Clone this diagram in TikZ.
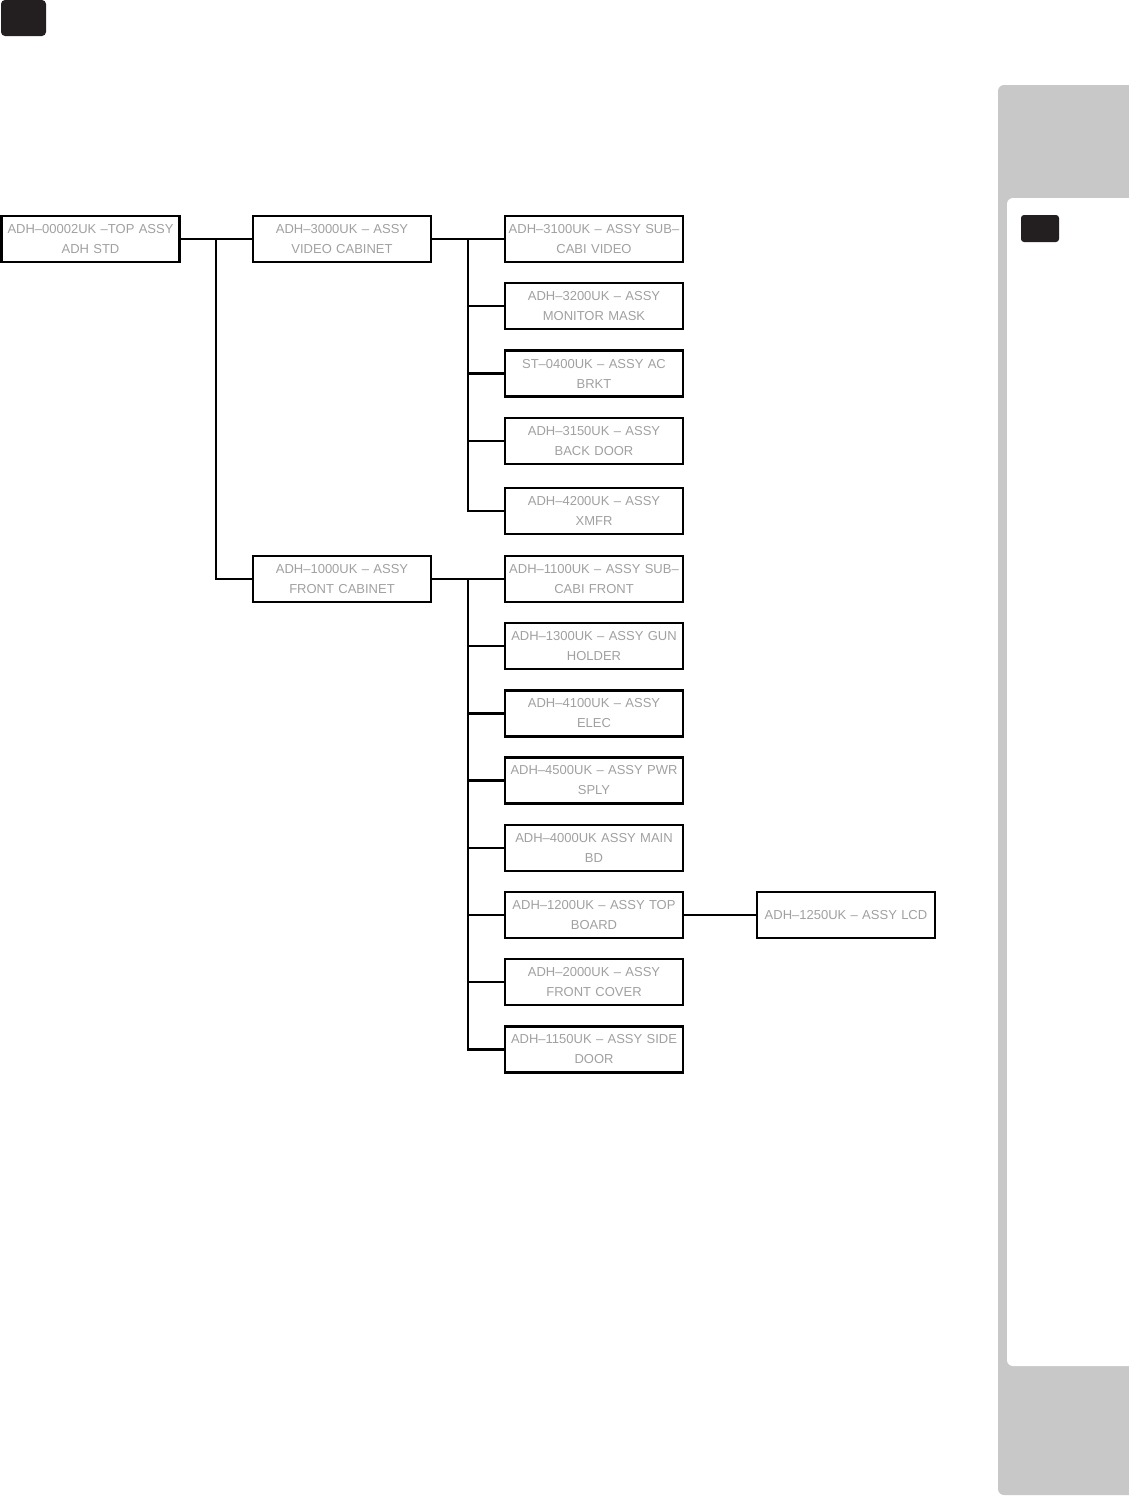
\documentclass[tikz,border=0pt]{standalone}
\usepackage{fontspec}
\setmainfont{Liberation Sans}
\usetikzlibrary{positioning}
\definecolor{tabgray}{HTML}{C8C8C8}
\definecolor{tagblack}{HTML}{231F20}
\definecolor{txtgray}{HTML}{A0A0A0}
\tikzset{
  part/.style={draw,line width=2.8pt,minimum width=178pt,minimum height=46pt,
    text width=176pt,align=center,inner sep=0pt,text=txtgray,
    font=\fontsize{13}{20}\selectfont},
  link/.style={line width=2.8pt}
}

\begin{document}
\begin{tikzpicture}[x=1pt,y=-1pt]
\useasboundingbox (0,0) rectangle (1129,1497);
% page furniture
\fill[tagblack,rounded corners=4pt] (1,0) rectangle (46,36);
\fill[tabgray,rounded corners=6pt] (998,85) rectangle (1135,1495);
\fill[white,rounded corners=6pt] (1007,198) rectangle (1140,1366);
\fill[tagblack,rounded corners=3pt] (1021,215) rectangle (1059,242);
% assemblies
\node[part] (top) at (90.5,239) {ADH--00002UK --TOP ASSY\\ADH STD};
\node[part] (video) at (342,239) {ADH--3000UK -- ASSY\\VIDEO CABINET};
\node[part] (front) at (342,579) {ADH--1000UK -- ASSY\\FRONT CABINET};
\node[part] (vsub) at (594,239) {ADH--3100UK -- ASSY SUB--\\CABI VIDEO};
\node[part] (mask) at (594,306) {ADH--3200UK -- ASSY\\MONITOR MASK};
\node[part] (acbrkt) at (594,373.5) {ST--0400UK -- ASSY AC\\BRKT};
\node[part] (bdoor) at (594,441) {ADH--3150UK -- ASSY\\BACK DOOR};
\node[part] (xmfr) at (594,511) {ADH--4200UK -- ASSY\\XMFR};
\node[part] (fsub) at (594,579) {ADH--1100UK -- ASSY SUB--\\CABI FRONT};
\node[part] (gun) at (594,646) {ADH--1300UK -- ASSY GUN\\HOLDER};
\node[part] (elec) at (594,713.5) {ADH--4100UK -- ASSY\\ELEC};
\node[part] (pwr) at (594,780.5) {ADH--4500UK -- ASSY PWR\\SPLY};
\node[part] (mainbd) at (594,848) {ADH--4000UK ASSY MAIN\\BD};
\node[part] (topbd) at (594,915) {ADH--1200UK -- ASSY TOP\\BOARD};
\node[part] (fcover) at (594,982) {ADH--2000UK -- ASSY\\FRONT COVER};
\node[part] (sdoor) at (594,1049.5) {ADH--1150UK -- ASSY SIDE\\DOOR};
\node[part] (lcd) at (846,915) {ADH--1250UK -- ASSY LCD};
% tree lines
\coordinate (trunkA) at (216,239);
\coordinate (trunkB) at (468,239);
\coordinate (trunkC) at (468,579);
\draw[link] (top.east) -- (video.west);
\draw[link] (trunkA) |- (front.west);
\draw[link] (video.east) -- (vsub.west);
\foreach \n in {mask,acbrkt,bdoor,xmfr}
  \draw[link] (trunkB) |- (\n.west);
\draw[link] (front.east) -- (fsub.west);
\foreach \n in {gun,elec,pwr,mainbd,topbd,fcover,sdoor}
  \draw[link] (trunkC) |- (\n.west);
\draw[link] (topbd.east) -- (lcd.west);
\end{tikzpicture}
\end{document}
